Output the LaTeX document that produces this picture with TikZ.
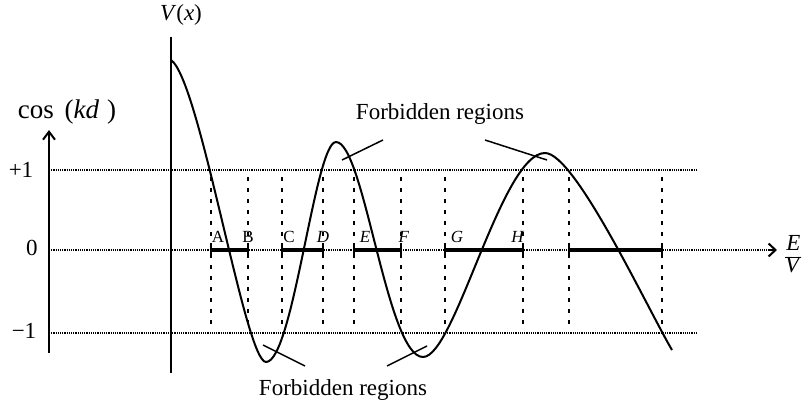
\documentclass[tikz,border=0pt]{standalone}
\usepackage{fontspec}
\setmainfont{Liberation Serif}
\usetikzlibrary{arrows.meta}
\begin{document}
\begin{tikzpicture}[x=1pt,y=-1pt,
  gridline/.style={densely dotted, line width=1.2pt},
  vdash/.style={dash pattern=on 4pt off 7pt, line width=1.3pt},
  band/.style={line width=3.5pt},
  curve/.style={line width=2pt, line join=round},
  big/.style={font=\fontsize{23}{26}\selectfont, inner sep=0pt},
  ptlabel/.style={font=\fontsize{17}{19}\selectfont, inner sep=0pt},
  ptr/.style={line width=1.5pt},
  tick/.style={line width=1.3pt}]
\useasboundingbox (0,0) rectangle (809,407);

% horizontal reference lines
\coordinate (l1) at (49,170);  \coordinate (r1) at (697,170);
\coordinate (l0) at (49,250);  \coordinate (r0) at (777,250);
\coordinate (lm) at (49,333);  \coordinate (rm) at (697,333);
\draw[gridline] (l1) -- (r1);
\draw[gridline] (l0) -- (r0);
\draw[gridline] (lm) -- (rm);
\draw[line width=1.8pt, -{Straight Barb[length=7pt,width=13pt,line width=2pt]}] (768,250) -- (r0);

% vertical dashed lines
\foreach \x in {211,248,282,323,354,401,445,523,569,662}
  \draw[vdash] (\x,177) -- (\x,330);

% allowed bands
\foreach \a/\b in {211/248,282/323,354/401,445/523,569/662}{
  \draw[band] (\a,250) -- (\b,250);
  \draw[tick] (\a,244) -- (\a,255);
  \draw[tick] (\b,244) -- (\b,255);
}

% axes
\coordinate (cb) at (49,353); \coordinate (ct) at (49,130);
\draw[line width=2pt, -{Straight Barb[length=8pt,width=12pt,line width=2pt]}] (cb) -- (ct);
\coordinate (vb) at (171,373); \coordinate (vt) at (171,37);
\draw[line width=1.5pt] (vb) -- (vt);

% curve cos(kd) as a function of E/V
\draw[curve] (171,60) .. controls (200,80) and (245,362) .. (266,362)
  .. controls (293,362) and (315,142) .. (336,142)
  .. controls (364,142) and (387,357) .. (423,357)
  .. controls (455,357) and (501.5,153) .. (545,153)
  .. controls (575,153) and (647,307.5) .. (672,350);

% axis labels
\node[big] (vx) at (181,15) {\textit{V}(\textit{x})};
\node[big, font=\fontsize{27}{30}\selectfont] (ckd) at (67,112)
  {cos\hspace{0.4em}(\textit{kd}\hspace{0.3em})};
\node[big] (p1) at (21,170) {+1};
\node[big] (z0) at (32,248) {0};
\node[big] (m1) at (24,331) {−1};
\node[big, anchor=west] (ev) at (785,257)
  {\setlength{\arrayrulewidth}{1pt}\renewcommand{\arraystretch}{0.8}%
   \begin{tabular}{@{}c@{}}\textit{E}\\\hline\textit{V}\end{tabular}};

% band point labels
\node[ptlabel] (A) at (218,237) {A};
\node[ptlabel] (B) at (248,237) {B};
\node[ptlabel] (C) at (289,237) {C};
\node[ptlabel] (D) at (323,237) {\textit{D}};
\node[ptlabel] (E) at (365,237) {\textit{E}};
\node[ptlabel] (F) at (404,237) {\textit{F}};
\node[ptlabel] (G) at (457,237) {\textit{G}};
\node[ptlabel] (H) at (518,237) {\textit{H}};

% forbidden region labels and pointers
\node[big] (ft) at (440,114) {Forbidden regions};
\node[big] (fb) at (343,390) {Forbidden regions};
\coordinate (ta1) at (383,140); \coordinate (tb1) at (342,160);
\coordinate (ta2) at (485,140); \coordinate (tb2) at (547,160);
\coordinate (ba1) at (305,366); \coordinate (bb1) at (263,345);
\coordinate (ba2) at (387,366); \coordinate (bb2) at (427,346);
\draw[ptr] (ta1) -- (tb1);
\draw[ptr] (ta2) -- (tb2);
\draw[ptr] (ba1) -- (bb1);
\draw[ptr] (ba2) -- (bb2);
\end{tikzpicture}
\end{document}
